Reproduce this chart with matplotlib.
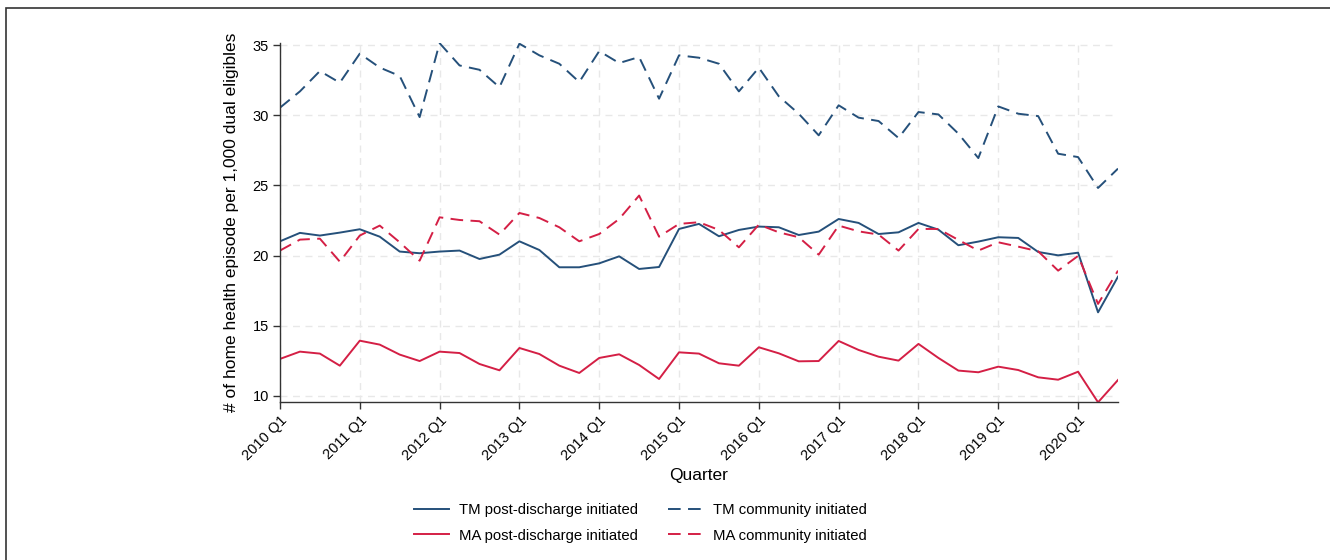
import numpy as np
import matplotlib.pyplot as plt
from matplotlib.patches import Rectangle

plt.rcParams['font.family'] = ['Liberation Sans', 'DejaVu Sans']

# quarterly rates, 2010 Q1 .. 2020 Q3
quarters = [f"{y} Q{q}" for y in range(2010, 2021) for q in range(1, 5)][:43]

tm_post = [21.02, 21.62, 21.43, 21.64, 21.88, 21.35, 20.29, 20.17, 20.29, 20.36,
           19.76, 20.07, 21.02, 20.40, 19.17, 19.17, 19.45, 19.95, 19.05, 19.19,
           21.90, 22.26, 21.38, 21.83, 22.07, 22.02, 21.47, 21.71, 22.61, 22.33,
           21.54, 21.66, 22.33, 21.85, 20.74, 21.00, 21.31, 21.26, 20.26, 20.02,
           20.21, 15.96, 18.50]
tm_comm = [30.54, 31.70, 33.15, 32.32, 34.39, 33.40, 32.80, 29.87, 35.14, 33.55,
           33.24, 32.00, 35.10, 34.27, 33.67, 32.37, 34.57, 33.72, 34.15, 31.18,
           34.27, 34.10, 33.67, 31.70, 33.39, 31.35, 30.11, 28.57, 30.71, 29.83,
           29.59, 28.38, 30.23, 30.06, 28.69, 26.95, 30.63, 30.11, 29.94, 27.26,
           27.02, 24.82, 26.20]
ma_post = [12.64, 13.16, 13.02, 12.16, 13.94, 13.66, 12.95, 12.49, 13.16, 13.06,
           12.28, 11.83, 13.42, 12.99, 12.16, 11.64, 12.71, 12.97, 12.21, 11.21,
           13.11, 13.02, 12.33, 12.16, 13.47, 13.04, 12.47, 12.49, 13.92, 13.28,
           12.80, 12.52, 13.71, 12.71, 11.81, 11.69, 12.09, 11.85, 11.33, 11.16,
           11.73, 9.55, 11.14]
ma_comm = [20.36, 21.14, 21.21, 19.57, 21.43, 22.14, 20.95, 19.64, 22.73, 22.54,
           22.45, 21.50, 23.04, 22.68, 22.02, 21.02, 21.54, 22.61, 24.28, 21.35,
           22.26, 22.38, 21.83, 20.59, 22.21, 21.66, 21.31, 20.07, 22.14, 21.73,
           21.50, 20.36, 21.90, 21.90, 21.12, 20.36, 20.95, 20.64, 20.31, 18.93,
           19.98, 16.56, 18.93]

navy = '#25507a'
red = '#d41f45'
dash = (0, (6.5, 3.8))

fig = plt.figure(figsize=(13.3, 5.6), dpi=100)
fig.patches.append(Rectangle((0.0048, -0.5), 2, 1.4856, transform=fig.transFigure,
                             fill=False, ec='#333333', lw=1.2))
ax = fig.add_axes([0.2105, 0.2816, 0.6301, 0.6414])

t = np.arange(len(quarters))
ax.plot(t, tm_post, color=navy, lw=1.4, label='TM post-discharge initiated')
ax.plot(t, ma_post, color=red, lw=1.4, label='MA post-discharge initiated')
ax.plot(t, tm_comm, color=navy, lw=1.4, ls=dash, label='TM community initiated')
ax.plot(t, ma_comm, color=red, lw=1.4, ls=dash, label='MA community initiated')

ax.set_xlim(0, len(quarters) - 1)
ax.set_ylim(min(ma_post), max(tm_comm))
ax.set_yticks([10, 15, 20, 25, 30, 35])
ax.set_xticks(t[::4])
ax.set_xticklabels(quarters[::4], rotation=45, ha='right', va='top',
                   rotation_mode='anchor')
ax.tick_params(labelsize=10.5, length=5, width=1, color='#333333', pad=3)
ax.grid(True, color='#e8e8e8', lw=1, ls=(0, (5, 4)))
ax.set_axisbelow(True)
for s in ['top', 'right']:
    ax.spines[s].set_visible(False)
for s in ['left', 'bottom']:
    ax.spines[s].set_color('#333333')
    ax.spines[s].set_linewidth(1)

ax.set_xlabel('Quarter', fontsize=12.5, labelpad=3.5)
ax.set_ylabel('# of home health episode per 1,000 dual eligibles', fontsize=12.5,
              labelpad=10)

fig.legend(loc='center', bbox_to_anchor=(0.4815, 1 - 523 / 560), ncol=2,
           frameon=False, fontsize=10.7, handlelength=2.35, handletextpad=0.67,
           columnspacing=2.0, labelspacing=0.75)

fig.savefig('out.png', dpi=100)
